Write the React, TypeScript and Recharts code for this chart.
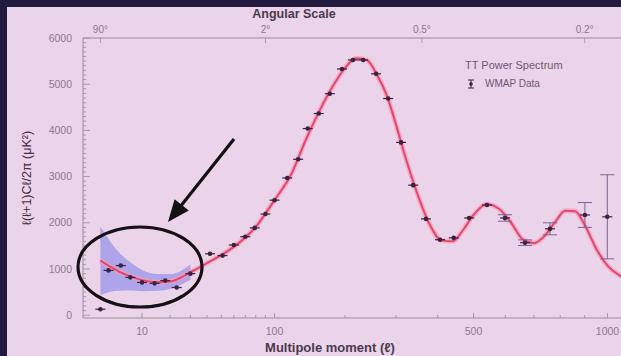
import { ComposedChart, Line, Area, Scatter, ErrorBar, XAxis, YAxis } from 'recharts';

// multipole l and l(l+1)C_l/2pi (uK^2)
const curveL = [2, 3, 4, 5, 7, 10, 15, 20, 30, 40, 50, 60, 70, 80, 90, 100, 120, 140, 160, 180, 200, 220, 240, 260, 280, 300, 320, 350, 380, 410, 440, 470, 500, 540, 580, 620, 660, 700, 740, 780, 820, 860, 900, 950, 1000, 1050, 1100];
const curveD = [1180, 1075, 990, 925, 840, 760, 715, 730, 930, 1130, 1300, 1480, 1680, 1910, 2200, 2490, 3050, 3820, 4450, 4960, 5350, 5560, 5520, 5200, 4760, 4120, 3450, 2600, 1950, 1620, 1600, 1850, 2170, 2400, 2300, 2000, 1640, 1560, 1720, 2020, 2260, 2250, 1960, 1440, 1075, 880, 760];

// cosmic variance band at low l
const bandL = [2, 3, 4, 5, 7, 10, 15, 20, 30];
const bandLo = [440, 500, 525, 530, 535, 520, 530, 570, 760];
const bandHi = [1920, 1650, 1455, 1320, 1145, 980, 890, 890, 1100];

// binned WMAP points
const pointL = [2, 3, 5, 7, 10, 14, 18, 23, 30, 42, 51, 60, 70, 79, 90, 100, 115, 129, 142, 158, 175, 195, 214, 233, 258, 283, 311, 339, 370, 406, 443, 487, 541, 599, 668, 760, 901, 999];
const pointD = [130, 970, 1075, 820, 710, 690, 750, 600, 900, 1330, 1290, 1520, 1700, 1890, 2190, 2490, 2970, 3375, 4040, 4365, 4795, 5330, 5525, 5525, 5225, 4690, 3740, 2815, 2085, 1635, 1675, 2105, 2385, 2105, 1570, 1870, 2170, 2130];

// the only error bars that show up at this size
const errL = [599, 668, 760, 901, 999];
const errD = [2105, 1570, 1870, 2170, 2130];
const errSize = [70, 60, 130, 270, 910];

const bottomTicks = [10, 20, 30, 40, 50, 60, 70, 80, 90, 100, 200, 300, 400, 500, 600, 700, 800, 900, 1000];
const bottomLabels = [10, 100, 500, 1000];
const topTickL = [2, 90, 360, 900];
const topTickText = ['90°', '2°', '0.5°', '0.2°'];
const yTicks = Array.from({ length: 61 }, (_, i) => i * 100);

// the x axis of the original is stretched like l^0.4
const P = 0.4;
const pos = (l: number) => Math.pow(l, P);

const rows = curveL.map((l, i) => {
  const b = bandL.indexOf(l);
  return { u: pos(l), d: curveD[i], band: b >= 0 ? [bandLo[b], bandHi[b]] : null };
});
const points = pointL.map((l, i) => ({ u: pos(l), d: pointD[i] }));
const errPoints = errL.map((l, i) => ({ u: pos(l), d: errD[i], err: errSize[i] }));

const axisColor = '#9a8a9f';
const tickText = '#8a7a8e';

const YTick = ({ x, y, payload }: any) => {
  const major = payload.value % 1000 === 0;
  return (
    <g>
      <line x1={x} x2={x + (major ? 7 : 3)} y1={y} y2={y} stroke={axisColor} strokeWidth={0.8} />
      {major && (
        <text x={x - 11} y={y + 3.5} textAnchor="end" fontSize={10.5} fill={tickText}>
          {payload.value}
        </text>
      )}
    </g>
  );
};

const BottomTick = ({ x, y, payload }: any) => {
  const l = Math.round(Math.pow(payload.value, 1 / P));
  const labeled = bottomLabels.includes(l);
  return (
    <g>
      <line x1={x} x2={x} y1={y} y2={y - (labeled ? 5 : 3)} stroke={axisColor} strokeWidth={0.8} />
      {labeled && (
        <text x={x} y={y + 17} textAnchor="middle" fontSize={10.5} fill={tickText}>
          {l}
        </text>
      )}
    </g>
  );
};

const TopTick = ({ x, y, payload }: any) => {
  const l = Math.round(Math.pow(payload.value, 1 / P));
  const i = topTickL.indexOf(l);
  return (
    <g>
      <line x1={x} x2={x} y1={y} y2={y + 5} stroke={axisColor} strokeWidth={0.8} />
      <text x={x} y={y - 5} textAnchor="middle" fontSize={10} fill={tickText}>
        {topTickText[i]}
      </text>
    </g>
  );
};

const DataPoint = (p: any) => (
  <g>
    <line x1={p.cx - 5} x2={p.cx + 5} y1={p.cy} y2={p.cy} stroke="#3a2340" strokeWidth={1.2} />
    <circle cx={p.cx} cy={p.cy} r={2.3} fill="#3a2340" />
  </g>
);

const NoDot = () => <g />;

export default function App() {
  const xDomain = [0.821, 17.64];
  return (
    <div
      style={{
        position: 'fixed',
        left: 0,
        top: 0,
        width: 621,
        height: 356,
        overflow: 'hidden',
        background: '#ebd3ea',
        fontFamily: '"Liberation Sans", Arial, sans-serif',
      }}
    >
      <ComposedChart width={680} height={356} data={rows} margin={{ top: 18, right: 10, bottom: 8, left: 0 }}>
        <XAxis
          dataKey="u"
          type="number"
          domain={xDomain}
          allowDataOverflow
          ticks={bottomTicks.map(pos)}
          interval={0}
          height={30}
          tickSize={0}
          tickMargin={0}
          tickLine={false}
          tick={<BottomTick />}
          stroke={axisColor}
        />
        <XAxis
          xAxisId="top"
          orientation="top"
          dataKey="u"
          type="number"
          domain={xDomain}
          allowDataOverflow
          ticks={topTickL.map(pos)}
          interval={0}
          height={20}
          tickSize={0}
          tickMargin={0}
          tickLine={false}
          tick={<TopTick />}
          stroke={axisColor}
        />
        <YAxis
          type="number"
          domain={[-60, 6000]}
          allowDataOverflow
          ticks={yTicks}
          interval={0}
          width={83}
          tickSize={0}
          tickMargin={0}
          tickLine={false}
          tick={<YTick />}
          stroke={axisColor}
        />
        <Area
          dataKey="band"
          type="monotone"
          stroke="none"
          fill="#9d99e8"
          fillOpacity={0.8}
          isAnimationActive={false}
        />
        <Line dataKey="d" type="monotone" dot={false} stroke="#f3a0b9" strokeWidth={5} strokeOpacity={0.7} isAnimationActive={false} />
        <Line dataKey="d" type="monotone" dot={false} stroke="#e3476f" strokeWidth={2} isAnimationActive={false} />
        <Scatter data={errPoints} dataKey="d" shape={<NoDot />} isAnimationActive={false}>
          <ErrorBar dataKey="err" direction="y" width={7} stroke="#7a6690" strokeWidth={1} />
        </Scatter>
        <Scatter data={points} dataKey="d" shape={<DataPoint />} isAnimationActive={false} />
      </ComposedChart>

      <svg
        width={621}
        height={356}
        style={{ position: 'absolute', left: 0, top: 0, pointerEvents: 'none' }}
        fontFamily='"Liberation Sans", Arial, sans-serif'
      >
        <text x={294} y={18} textAnchor="middle" fontSize={12.5} fontWeight="bold" fill="#4a3a4e">
          Angular Scale
        </text>
        <text x={330} y={352} textAnchor="middle" fontSize={13} fontWeight="bold" fill="#4a3a4e">
          Multipole moment (ℓ)
        </text>
        <text x={31} y={178} textAnchor="middle" fontSize={12.5} fill="#3d2d45" transform="rotate(-90 31 178)">
          ℓ(ℓ+1)Cℓ/2π (μK²)
        </text>

        <text x={465} y={69} fontSize={11} fill="#6a5a70">
          TT Power Spectrum
        </text>
        <line x1={471} x2={471} y1={80} y2={88} stroke="#3a2340" strokeWidth={1} />
        <line x1={468} x2={474} y1={80} y2={80} stroke="#3a2340" strokeWidth={1} />
        <line x1={468} x2={474} y1={88} y2={88} stroke="#3a2340" strokeWidth={1} />
        <circle cx={471} cy={84} r={1.8} fill="#3a2340" />
        <text x={485} y={87} fontSize={10} fill="#6a5a70">
          WMAP Data
        </text>

        <ellipse cx={140} cy={267} rx={62} ry={40} fill="none" stroke="#141014" strokeWidth={3.2} />
        <line x1={234} y1={139} x2={180} y2={207} stroke="#141014" strokeWidth={3.2} />
        <polygon points="168,222 174.6,199.2 188.8,210.4" fill="#141014" />
      </svg>

      <div style={{ position: 'absolute', left: 0, top: 0, width: 621, height: 7, background: '#231a40' }} />
      <div style={{ position: 'absolute', left: 0, top: 0, width: 7, height: 356, background: '#231a40' }} />
    </div>
  );
}
